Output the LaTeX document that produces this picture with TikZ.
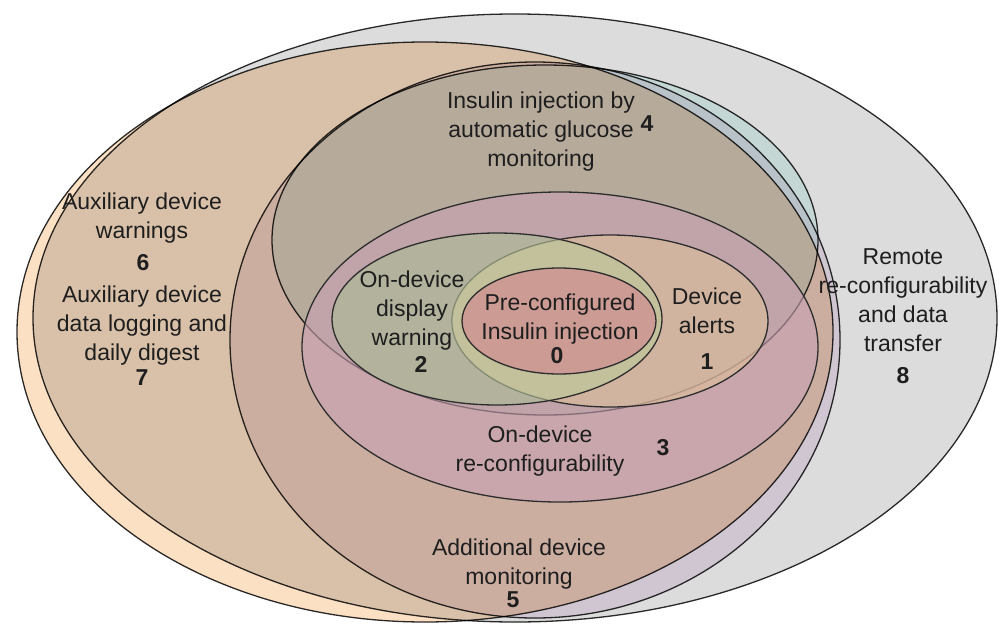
\documentclass[tikz,border=0pt]{standalone}
\usepackage{fontspec}
\setmainfont{Liberation Sans}

% fills of the nested feature sets
\definecolor{grayF}{RGB}{220,220,220}
\definecolor{peachF}{RGB}{252,224,196}
\definecolor{lavF}{RGB}{240,230,243}
\definecolor{mintF}{RGB}{228,250,246}
\definecolor{pinkF}{RGB}{199,161,179}
\definecolor{alertF}{RGB}{227,196,150}
\definecolor{warnF}{RGB}{168,190,148}
\definecolor{lensF}{RGB}{210,205,160}
\definecolor{coreF}{RGB}{204,155,148}
\definecolor{edge}{RGB}{45,45,45}
\definecolor{ink}{RGB}{30,30,30}

\begin{document}
\begin{tikzpicture}[x=1pt,y=-1pt,line width=1.3pt,
  every node/.style={text=ink,align=center,inner sep=0pt,
    font=\fontsize{23}{29}\selectfont},
  num/.style={font=\fontsize{23}{29}\selectfont\bfseries},
  % set outlines
  ovalRemote/.style={insert path={(515,318) ellipse [x radius=482pt, y radius=304pt]}},
  ovalAux/.style={insert path={(425,332) ellipse [x radius=408pt, y radius=290pt]}},
  ovalAddl/.style={insert path={(535,340) ellipse [x radius=305pt, y radius=278pt]}},
  ovalAuto/.style={insert path={(545,240) ellipse [x radius=273pt, y radius=175pt]}},
  ovalReconf/.style={insert path={(560,347) ellipse [x radius=258pt, y radius=155pt]}},
  ovalAlert/.style={insert path={(610,321) ellipse [x radius=158pt, y radius=86pt]}},
  ovalWarn/.style={insert path={(497,319) ellipse [x radius=165pt, y radius=86pt]}},
  ovalCore/.style={insert path={(559,321) ellipse [x radius=97pt, y radius=53pt]}},
]
\fill[white] (0,0) rectangle (1000,626);
\useasboundingbox (0,0) rectangle (1000,626);

% outer sets, tinted by multiplication
\begin{scope}[blend mode=multiply]
  \filldraw[fill=grayF, draw=edge, ovalRemote];
  \filldraw[fill=peachF, draw=edge, ovalAux];
  \filldraw[fill=lavF, draw=edge, ovalAddl];
  \filldraw[fill=mintF, draw=edge, ovalAuto];
\end{scope}

% inner on-device sets
\filldraw[fill=pinkF, fill opacity=0.6, draw=edge, ovalReconf];
\filldraw[fill=alertF, fill opacity=0.5, draw=edge, ovalAlert];
\fill[warnF, fill opacity=0.55, ovalWarn];
\begin{scope}
  \clip[ovalAlert];
  \fill[lensF, fill opacity=0.4, ovalWarn];
\end{scope}
\draw[edge, ovalWarn];
\filldraw[fill=coreF, draw=edge, ovalCore];

% labels
\node (auxA) at (142,218.5) {Auxiliary device\\warnings};
\node[num] (n6) at (143,263) {6};
\node (auxB) at (142,326) {Auxiliary device\\data logging and\\daily digest};
\node[num] (n7) at (142,378) {7};
\node (auto) at (541,132) {Insulin injection by\\automatic glucose\\monitoring};
\node[num] (n4) at (647,124) {4};
\node (core) at (560,319.5) {Pre-configured\\Insulin injection};
\node[num] (n0) at (557,356) {0};
\node (warn) at (412,311) {On-device\\display\\warning};
\node[num] (n2) at (421,364) {2};
\node (alert) at (707,311) {Device\\alerts};
\node[num] (n1) at (707,362) {1};
\node (reconf) at (540,451.5) {On-device\\re-configurability};
\node[num] (n3) at (663,448) {3};
\node (addl) at (519,564.5) {Additional device\\monitoring};
\node[num] (n5) at (513,600) {5};
\node (remote) at (903,300) {Remote\\re-configurability\\and data\\transfer};
\node[num] (n8) at (903,376) {8};
\end{tikzpicture}
\end{document}
